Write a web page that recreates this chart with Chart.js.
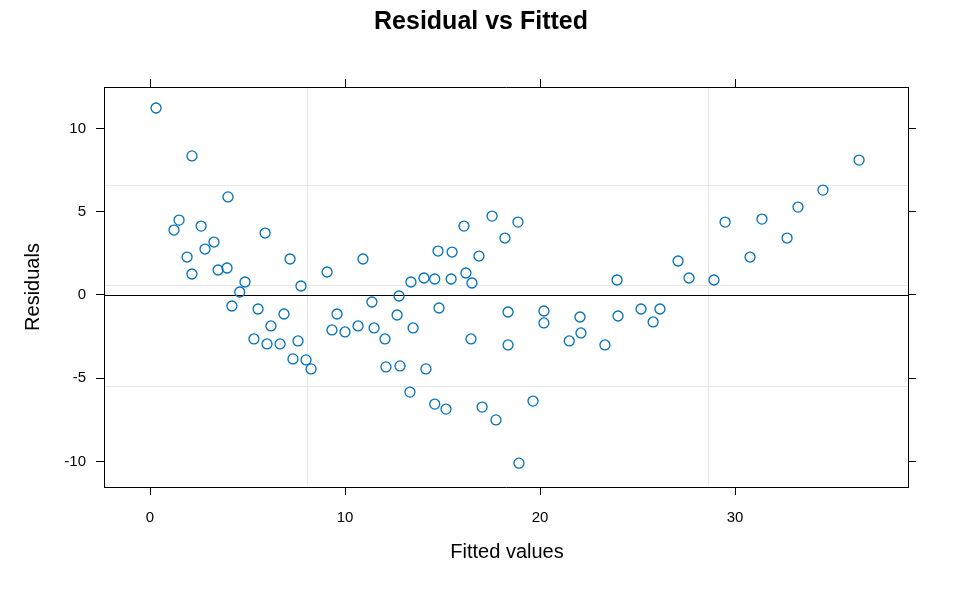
<!DOCTYPE html>
<html><head><meta charset="utf-8">
<script src="https://cdn.jsdelivr.net/npm/chart.js@4"></script>
<style>html,body{margin:0;padding:0;background:#fff}#w{width:962px;height:594px}</style>
</head><body><div id="w"><canvas id="c"></canvas></div>
<script>
const fitted = [0.31,1.23,1.49,1.9,2.15,2.15,2.62,2.82,3.28,3.49,3.95,4.0,4.2,4.6,4.87,5.33,5.54,5.9,6.0,6.2,6.67,6.87,7.18,7.33,7.59,7.74,8.0,8.26,9.08,9.33,9.59,10.0,10.67,10.92,11.38,11.49,12.05,12.1,12.67,12.77,12.82,13.33,13.38,13.49,14.05,14.15,14.6,14.77,14.82,14.6,15.18,15.44,15.49,16.1,16.2,16.46,16.51,16.87,17.03,17.54,17.74,18.2,18.36,18.36,18.87,18.92,19.64,20.2,20.2,21.5,22.05,22.1,23.33,23.95,24.0,25.18,26.15,25.8,27.08,27.64,28.92,29.49,30.77,31.38,32.67,33.23,34.51,36.36];
const residuals = [11.23,3.9,4.5,2.28,1.26,8.35,4.14,2.76,3.18,1.5,1.62,5.89,-0.66,0.18,0.78,-2.64,-0.84,3.72,-2.94,-1.86,-2.94,-1.14,2.16,-3.84,-2.76,0.54,-3.9,-4.44,1.38,-2.1,-1.14,-2.22,-1.86,2.16,-0.42,-1.98,-2.64,-4.32,-1.2,-0.06,-4.26,-5.83,0.78,-1.98,1.02,-4.44,0.96,2.64,-0.78,-6.55,-6.85,0.96,2.58,4.14,1.32,-2.64,0.72,2.34,-6.73,4.74,-7.5,3.42,-1.02,-3.0,4.38,-10.1,-6.37,-0.96,-1.68,-2.76,-1.32,-2.28,-3.0,0.9,-1.26,-0.84,-0.84,-1.62,2.04,1.02,0.9,4.38,2.28,4.56,3.42,5.28,6.3,8.1];
const xTicks = [0,10,20,30];
const yTicks = [-10,-5,0,5,10];
const xGrid = [8.07,28.6];
const yGrid = [-5.46,0.58,6.6];

const pts = fitted.map((x,i)=>({x, y:residuals[i]}));
const tk = v => (s)=>{ s.ticks = v.map(t=>({value:t})); };
const font = {family:'Liberation Sans, Arial', size:15};
const plug = {
  id:'extra',
  beforeDatasetsDraw(ch){
    const c=ch.ctx, a=ch.chartArea, xs=ch.scales.x, ys=ch.scales.y;
    c.save(); c.strokeStyle='#e6e6e6'; c.lineWidth=1;
    xGrid.forEach(v=>{const p=Math.round(xs.getPixelForValue(v))+0.5;c.beginPath();c.moveTo(p,a.top+1);c.lineTo(p,a.bottom-1);c.stroke();});
    yGrid.forEach(v=>{const p=Math.round(ys.getPixelForValue(v))+0.5;c.beginPath();c.moveTo(a.left+1,p);c.lineTo(a.right-1,p);c.stroke();});
    c.strokeStyle='#000'; const p0=Math.round(ys.getPixelForValue(0))+0.5;
    c.beginPath();c.moveTo(a.left,p0);c.lineTo(a.right,p0);c.stroke();
    c.restore();
  },
  afterDraw(ch){
    const c=ch.ctx;
    c.save(); c.fillStyle='#000'; c.textAlign='center'; c.textBaseline='middle';
    c.font='bold 25px Liberation Sans, Arial'; c.fillText('Residual vs Fitted',481,22);
    c.font='20px Liberation Sans, Arial'; c.fillText('Fitted values',507,552);
    c.translate(33,287); c.rotate(-Math.PI/2); c.fillText('Residuals',0,0);
    c.restore();
  }
};
const gridOpt = {drawOnChartArea:false, drawTicks:true, tickLength:8, color:'#000', lineWidth:1};
new Chart(document.getElementById('c'),{
  type:'scatter',
  data:{datasets:[{data:pts, pointStyle:'circle', pointRadius:5, pointHoverRadius:5,
    borderColor:'#0072BD', backgroundColor:'rgba(0,0,0,0)', borderWidth:1.3}]},
  options:{responsive:true, maintainAspectRatio:false, animation:false,
    layout:{padding:0},
    plugins:{legend:{display:false}, tooltip:{enabled:false}},
    scales:{
      x:{type:'linear', position:'bottom', min:-2.36, max:38.87, afterBuildTicks:tk(xTicks),
        afterFit:s=>{s.height=107;}, grid:gridOpt, border:{color:'#000',width:1},
        ticks:{color:'#000', font, padding:14}},
      x2:{type:'linear', position:'top', min:-2.36, max:38.87, afterBuildTicks:tk(xTicks),
        afterFit:s=>{s.height=87;}, grid:gridOpt, border:{color:'#000',width:1},
        ticks:{color:'rgba(0,0,0,0)', font, padding:0}},
      y:{type:'linear', position:'left', min:-11.53, max:12.49, afterBuildTicks:tk(yTicks),
        afterFit:s=>{s.width=104;}, grid:gridOpt, border:{color:'#000',width:1},
        ticks:{color:'#000', font, padding:10}},
      y2:{type:'linear', position:'right', min:-11.53, max:12.49, afterBuildTicks:tk(yTicks),
        afterFit:s=>{s.width=54;}, grid:gridOpt, border:{color:'#000',width:1},
        ticks:{color:'rgba(0,0,0,0)', font, padding:0}}
    }
  },
  plugins:[plug]
});
</script></body></html>
